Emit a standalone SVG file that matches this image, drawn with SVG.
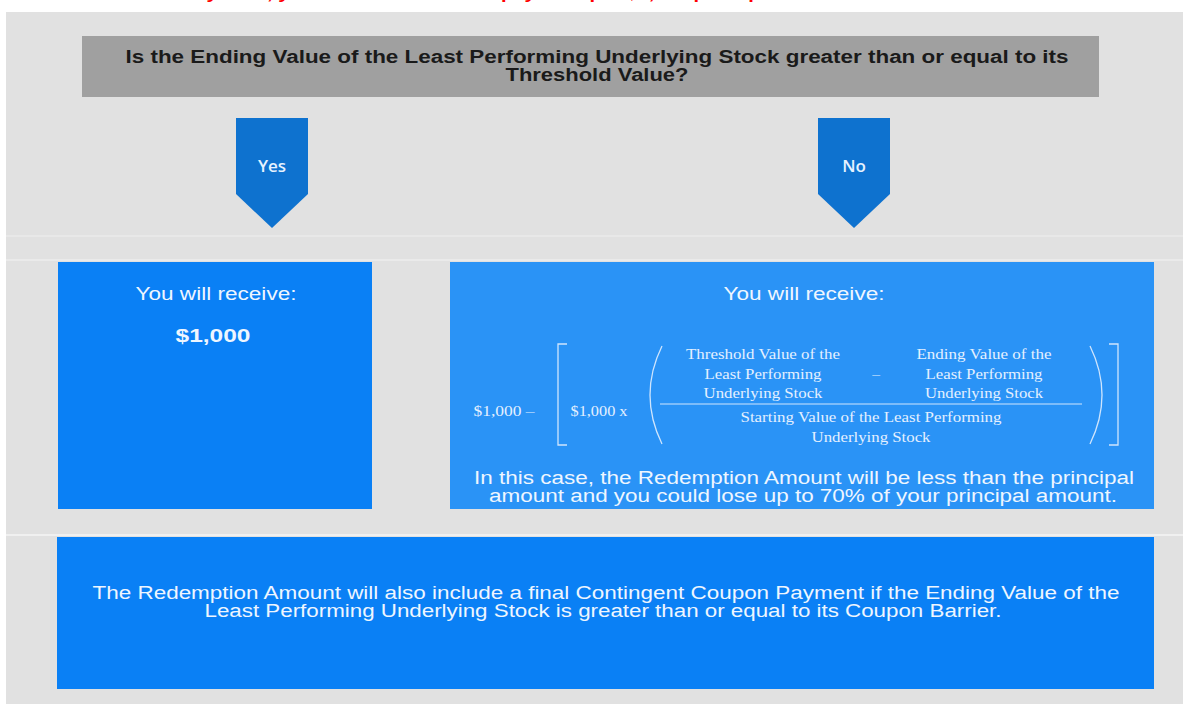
<svg xmlns="http://www.w3.org/2000/svg" width="1183" height="704" viewBox="0 0 1183 704">
<defs>
<style>
.bg{fill:#e1e1e1}
.sans{font-family:"Liberation Sans",Arial,sans-serif}
.box{fill:#0a80f5}
.boxl{fill:#2a93f6}
.wt{fill:#eef6ff;font-family:"Liberation Sans",Arial,sans-serif;font-size:18px;text-anchor:middle}
.fm{fill:#e4f0ff;font-family:"Liberation Serif","Times New Roman",serif;font-size:15.5px;text-anchor:middle}
.br{fill:none;stroke:#cfe5fd;stroke-width:1.3}
.arrow{fill:#0e72cf}
.lbl{fill:#e6f2ff;font-family:"Open Sans","Liberation Sans",sans-serif;font-size:17px;font-weight:600;text-anchor:middle}
</style>
</defs>
<rect width="1183" height="704" fill="#ffffff"/>
<text x="600" y="-1.5" fill="#ff0000" class="sans" font-size="17" font-weight="bold" text-anchor="middle" textLength="1060" lengthAdjust="spacingAndGlyphs">On the Maturity Date, you will receive a cash payment per $1,000 principal amount Note determined as follows:</text>
<rect class="bg" x="6" y="12" width="1177" height="692"/>
<line x1="6" y1="236" x2="1183" y2="236" stroke="#e8e8e8" stroke-width="2"/>
<line x1="6" y1="260" x2="1183" y2="260" stroke="#ececec" stroke-width="1.5"/>
<line x1="6" y1="535" x2="1183" y2="535" stroke="#f4f4f4" stroke-width="1.5"/>

<g id="question">
<rect x="82" y="36" width="1017" height="61" fill="#a0a0a0"/>
<text class="sans" x="597" y="63" font-size="17.5" font-weight="bold" fill="#1a1a1a" text-anchor="middle" textLength="943" lengthAdjust="spacingAndGlyphs">Is the Ending Value of the Least Performing Underlying Stock greater than or equal to its</text>
<text class="sans" x="597" y="81" font-size="17.5" font-weight="bold" fill="#1a1a1a" text-anchor="middle" textLength="183" lengthAdjust="spacingAndGlyphs">Threshold Value?</text>
</g>

<g id="connectors">
<g id="yes-arrow">
<polygon class="arrow" points="236,118 308,118 308,194 272,228 236,194"/>
<text class="lbl" x="272" y="172">Yes</text>
</g>
<g id="no-arrow">
<polygon class="arrow" points="818,118 890,118 890,194 854,228 818,194"/>
<text class="lbl" x="854" y="172">No</text>
</g>
</g>

<g id="yes-result">
<rect class="box" x="58" y="262" width="314" height="247"/>
<text class="wt" x="216" y="300" textLength="161" lengthAdjust="spacingAndGlyphs">You will receive:</text>
<text class="wt" x="213" y="342" font-weight="bold" textLength="75" lengthAdjust="spacingAndGlyphs">$1,000</text>
</g>

<g id="no-result">
<rect class="boxl" x="450" y="262" width="704" height="247"/>
<text class="wt" x="804" y="300" textLength="161" lengthAdjust="spacingAndGlyphs">You will receive:</text>
<g id="formula">
<text class="fm" x="504" y="416" textLength="61" lengthAdjust="spacingAndGlyphs">$1,000 –</text>
<path class="br" d="M567,344 L558,344 L558,445 L567,445"/>
<text class="fm" x="599" y="416" textLength="57" lengthAdjust="spacingAndGlyphs">$1,000 x</text>
<path class="br" d="M662,346 Q638,395 662,444"/>
<text class="fm" x="763" y="359" textLength="154" lengthAdjust="spacingAndGlyphs">Threshold Value of the</text>
<text class="fm" x="763" y="379" textLength="117" lengthAdjust="spacingAndGlyphs">Least Performing</text>
<text class="fm" x="763" y="398" textLength="119" lengthAdjust="spacingAndGlyphs">Underlying Stock</text>
<text class="fm" x="876" y="379">–</text>
<text class="fm" x="984" y="359" textLength="135" lengthAdjust="spacingAndGlyphs">Ending Value of the</text>
<text class="fm" x="984" y="379" textLength="117" lengthAdjust="spacingAndGlyphs">Least Performing</text>
<text class="fm" x="984" y="398" textLength="118" lengthAdjust="spacingAndGlyphs">Underlying Stock</text>
<line x1="660" y1="404" x2="1082" y2="404" stroke="#cfe5fd" stroke-width="1"/>
<text class="fm" x="871" y="422" textLength="261" lengthAdjust="spacingAndGlyphs">Starting Value of the Least Performing</text>
<text class="fm" x="871" y="442" textLength="119" lengthAdjust="spacingAndGlyphs">Underlying Stock</text>
<path class="br" d="M1090,346 Q1114,395 1090,444"/>
<path class="br" d="M1109,344 L1118,344 L1118,445 L1109,445"/>
</g>
<text class="wt" x="804" y="484" textLength="660" lengthAdjust="spacingAndGlyphs">In this case, the Redemption Amount will be less than the principal</text>
<text class="wt" x="803" y="502" textLength="628" lengthAdjust="spacingAndGlyphs">amount and you could lose up to 70% of your principal amount.</text>
</g>

<g id="coupon-note">
<rect class="box" x="57" y="537" width="1097" height="152"/>
<text class="wt" x="606" y="599" textLength="1027" lengthAdjust="spacingAndGlyphs">The Redemption Amount will also include a final Contingent Coupon Payment if the Ending Value of the</text>
<text class="wt" x="603" y="617" textLength="797" lengthAdjust="spacingAndGlyphs">Least Performing Underlying Stock is greater than or equal to its Coupon Barrier.</text>
</g>
</svg>
